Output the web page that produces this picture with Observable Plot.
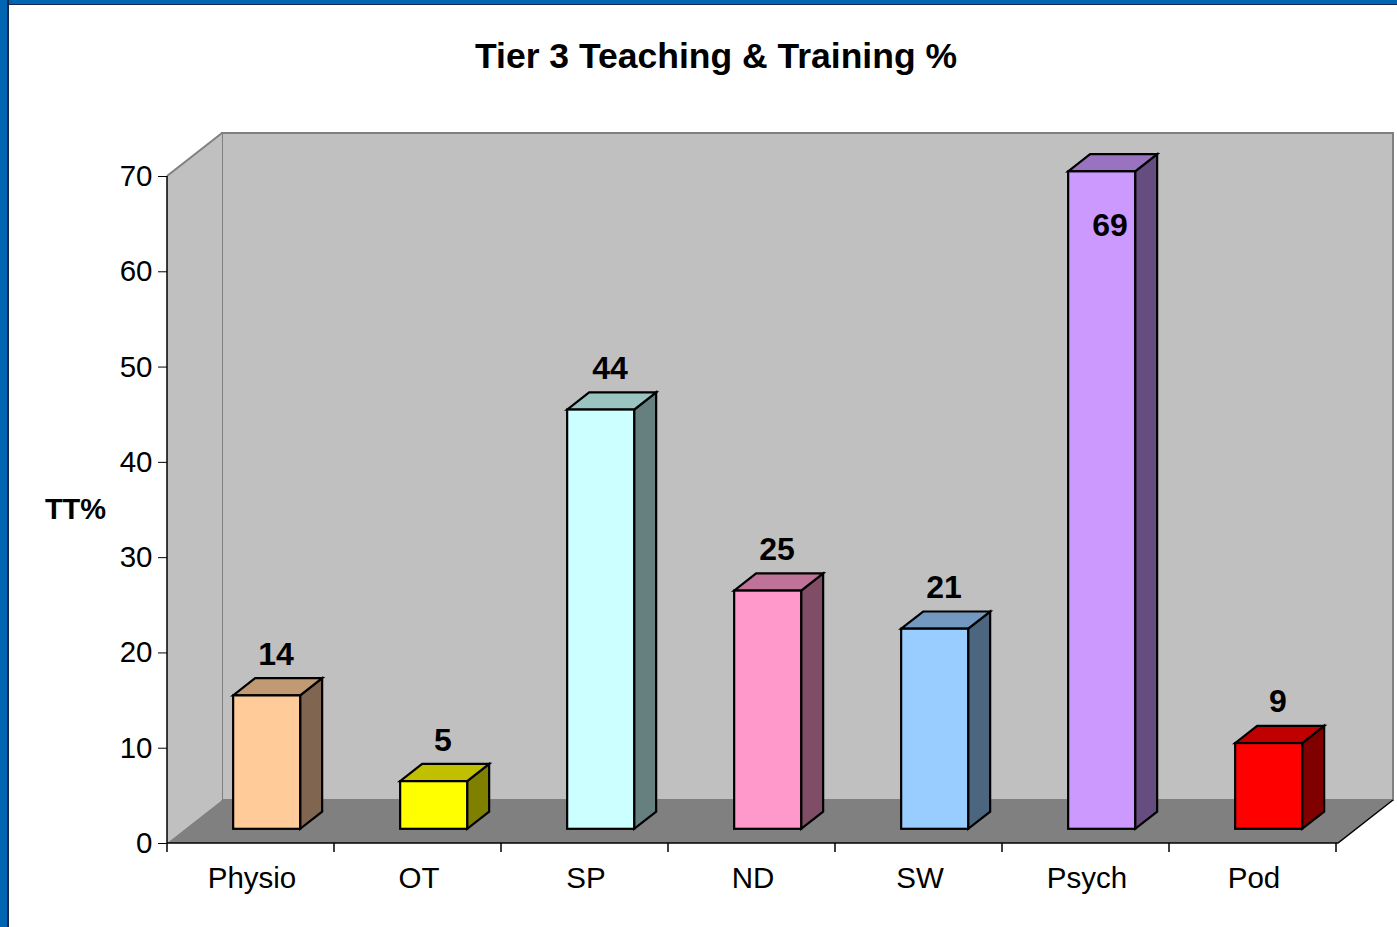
<!DOCTYPE html>
<html>
<head>
<meta charset="utf-8">
<script src="https://cdn.jsdelivr.net/npm/d3@7"></script>
<script src="https://cdn.jsdelivr.net/npm/@observablehq/plot@0.6"></script>
<style>
html, body { margin: 0; padding: 0; background: #ffffff; }
#wrap { position: relative; width: 1397px; height: 927px; overflow: hidden; background: #ffffff; }
#chart { position: absolute; left: 0; top: 0; }
.bl { position: absolute; left: 0; top: 0; width: 7px; height: 927px; background: #0066b3; border-right: 2px solid #13284a; }
.bt { position: absolute; left: 0; top: 0; width: 1397px; height: 4px; background: #0066b3; border-bottom: 1.5px solid #13284a; }
</style>
</head>
<body>
<div id="wrap"><div id="chart"></div><div class="bt"></div><div class="bl"></div></div>
<script>
// ---- data ----
const categories = ["Physio", "OT", "SP", "ND", "SW", "Psych", "Pod"];
const values = [14, 5, 44, 25, 21, 69, 9];
const yTicks = [0, 10, 20, 30, 40, 50, 60, 70];
const title = "Tier 3 Teaching & Training %";
const yLabel = "TT%";
// ---- palette (per category) ----
const frontColors = ["#FFCC99", "#FFFF00", "#CCFFFF", "#FF99CC", "#99CCFF", "#CC99FF", "#FF0000"];
const topColors   = ["#C19A73", "#C0C000", "#9AC4C0", "#C07399", "#7399C0", "#9973C0", "#C00000"];
const sideColors  = ["#806650", "#808000", "#668080", "#804D66", "#4D6680", "#664D80", "#800000"];

const data = categories.map((c, i) => ({
  category: c, value: values[i], front: frontColors[i], top: topColors[i], side: sideColors[i]
}));

// oblique projection of the full floor depth, in pixels
const DEPTH = [55, -43];
const F0 = 0.33, F1 = 0.73; // bar front / back depth fractions
const A = [DEPTH[0] * F0, DEPTH[1] * F0];
const B = [DEPTH[0] * F1, DEPTH[1] * F1];
const SHIFT = -3; // small horizontal nudge of the bars
const yMax = d3.max(yTicks);

function walls(index, scales) {
  const x = scales.x, y = scales.y;
  const [x0, x1] = x.range();
  const yb = y(0), yt = y(yMax);
  const [dx, dy] = DEPTH;
  const g = d3.create("svg:g");
  g.append("rect").attr("x", x0 + dx).attr("y", yt + dy)
    .attr("width", x1 - x0).attr("height", yb - yt)
    .attr("fill", "#c0c0c0").attr("stroke", "#808080").attr("stroke-width", 2);
  g.append("path").attr("d", `M${x0},${yb}L${x0},${yt}L${x0 + dx},${yt + dy}L${x0 + dx},${yb + dy}Z`)
    .attr("fill", "#c0c0c0");
  g.append("path").attr("d", `M${x0},${yt}L${x0 + dx},${yt + dy}`)
    .attr("stroke", "#808080").attr("stroke-width", 2).attr("fill", "none");
  g.append("path").attr("d", `M${x0},${yb}L${x1},${yb}L${x1 + dx},${yb + dy}L${x0 + dx},${yb + dy}Z`)
    .attr("fill", "#808080");
  g.append("path").attr("d", `M${x0},${yb}L${x1},${yb}L${x1 + dx},${yb + dy}`)
    .attr("stroke", "#000").attr("stroke-width", 1.5).attr("fill", "none");
  g.append("path").attr("d", `M${x0},${yt}L${x0},${yb}`)
    .attr("stroke", "#000").attr("stroke-width", 1.5);
  const step = typeof x.step === "function" ? x.step() : (x1 - x0) / categories.length;
  for (let i = 0; i <= categories.length; i++) {
    const bx = x0 + i * step;
    g.append("path").attr("d", `M${bx},${yb}L${bx},${yb + 9}`)
      .attr("stroke", "#000").attr("stroke-width", 1.5);
  }
  return g.node();
}

function boxes(index, scales) {
  const x = scales.x, y = scales.y;
  const bw = typeof x.bandwidth === "function" ? x.bandwidth() : x.bandwidth;
  const ddx = B[0] - A[0], ddy = B[1] - A[1];
  const g = d3.create("svg:g").attr("stroke", "#000").attr("stroke-width", 2.2).attr("stroke-linejoin", "miter");
  for (const d of data) {
    const L = x(d.category) + A[0] + SHIFT, R = L + bw;
    const T = y(d.value) + A[1], Bt = y(0) + A[1];
    g.append("path").attr("d", `M${R},${Bt}L${R},${T}L${R + ddx},${T + ddy}L${R + ddx},${Bt + ddy}Z`)
      .attr("fill", d.side);
    g.append("path").attr("d", `M${L},${T}L${R},${T}L${R + ddx},${T + ddy}L${L + ddx},${T + ddy}Z`)
      .attr("fill", d.top);
  }
  return g.node();
}

const inside = d => d.value > 0.85 * yMax;

const chart = Plot.plot({
  width: 1397,
  height: 927,
  marginLeft: 167,
  marginRight: 59,
  marginTop: 176,
  marginBottom: 84,
  style: { fontFamily: "'Liberation Sans', Arial, sans-serif", fontSize: "29.5px", background: "transparent", color: "#000", overflow: "visible" },
  x: { domain: categories, paddingInner: 0.6, paddingOuter: 0.3, tickSize: 0, tickPadding: 24, label: null },
  y: { domain: [0, yMax], ticks: yTicks, tickSize: 9, tickPadding: 6, label: null, tickFormat: d => String(d) },
  color: { type: "identity" },
  marks: [
    walls,
    boxes,
    Plot.barY(data, { x: "category", y: "value", fill: "front", dx: A[0] + SHIFT, dy: A[1], stroke: "#000", strokeWidth: 2.2 }),
    Plot.text(data.filter(d => !inside(d)), { x: "category", y: "value", text: d => String(d.value), dx: 24, dy: -55.5, lineAnchor: "middle", fontSize: 32, fontWeight: "bold", fill: "#000" }),
    Plot.text(data.filter(inside), { x: "category", y: "value", text: d => String(d.value), dx: 23, dy: 40, lineAnchor: "middle", fontSize: 32, fontWeight: "bold", fill: "#000" }),
    Plot.text([yLabel], { text: d => d, frameAnchor: "left", textAnchor: "middle", lineAnchor: "middle", dx: -92, fontSize: 29, fontWeight: "bold", fill: "#000" }),
    Plot.text([title], { text: d => d, frameAnchor: "top", textAnchor: "middle", lineAnchor: "middle", dx: -37, dy: -120, fontSize: 35.5, fontWeight: "bold", fill: "#000" })
  ]
});
document.getElementById("chart").appendChild(chart);
</script>
</body>
</html>
